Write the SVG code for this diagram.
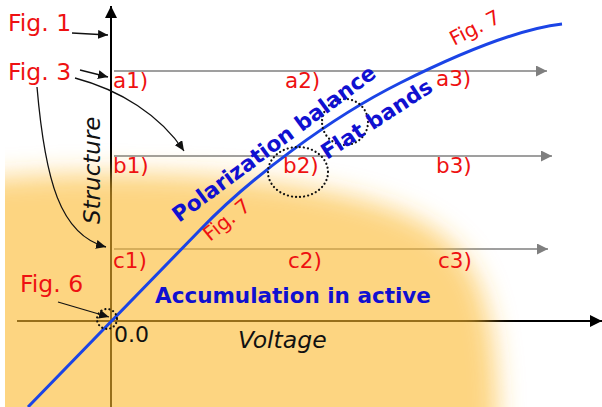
<svg xmlns="http://www.w3.org/2000/svg" width="602" height="407" viewBox="0 0 602 407">
<defs>
<style>
.lbl{font-family:"DejaVu Sans","Liberation Sans",sans-serif;font-size:21.5px;fill:#ee1111}
.fig{font-family:"DejaVu Sans","Liberation Sans",sans-serif;font-size:23.5px;fill:#ee1111}
.blue{font-family:"DejaVu Sans","Liberation Sans",sans-serif;font-size:21.5px;font-weight:bold;fill:#1010d0}
.ax{font-family:"DejaVu Sans","Liberation Sans",sans-serif;font-size:22px;fill:#111}
.gray{stroke:#7f7f7f;stroke-width:1.5;fill:none;marker-end:url(#ga)}
.ann{stroke:#111;stroke-width:1.3;fill:none;marker-end:url(#ba)}
.dot{fill:none;stroke:#111;stroke-width:2.2;stroke-dasharray:0.1 4;stroke-linecap:round}
</style>
<marker id="ga" markerUnits="userSpaceOnUse" markerWidth="11" markerHeight="11" refX="11" refY="5.5" orient="auto"><path d="M0,0 L11,5.5 L0,11 z" fill="#7f7f7f"/></marker>
<marker id="ba" markerUnits="userSpaceOnUse" markerWidth="10" markerHeight="9" refX="10" refY="4.5" orient="auto"><path d="M0,0 L10,4.5 L0,9 z" fill="#111"/></marker>
<marker id="axa" markerUnits="userSpaceOnUse" markerWidth="12" markerHeight="12" refX="12" refY="6" orient="auto"><path d="M0,0 L12,6 L0,12 z" fill="#000"/></marker>
<filter id="blur" x="-30%" y="-30%" width="160%" height="160%"><feGaussianBlur stdDeviation="13"/></filter>
<clipPath id="clipL"><rect x="5" y="0" width="597" height="407"/></clipPath>
</defs>
<rect width="602" height="407" fill="#fff"/>
<g id="axes">
<line x1="111" y1="407" x2="111" y2="6" stroke="#000" stroke-width="2" marker-end="url(#axa)"/>
<line x1="17" y1="321" x2="602" y2="321" stroke="#000" stroke-width="2" marker-end="url(#axa)"/>
</g>
<g id="connectors">
<line class="gray" x1="114" y1="71" x2="547" y2="71"/>
<line class="gray" x1="114" y1="156" x2="552" y2="156"/>
<line class="gray" x1="114" y1="249" x2="548" y2="249"/>
</g>
<g id="region" clip-path="url(#clipL)">
<path d="M-40,182 C100,165 300,172 400,212 C480,245 498,300 498,440 L-40,440 Z" fill="#fcb92b" fill-opacity="0.6" filter="url(#blur)"/>
</g>
<g id="curve">
<path d="M28,407 L200,230 C250,178 330,118 400,83 C440,63 510,30 562,24" fill="none" stroke="#1b44e6" stroke-width="3"/>
</g>
<g id="circles">
<ellipse class="dot" cx="298" cy="172" rx="30" ry="25"/>
<circle class="dot" cx="345" cy="122" r="23"/>
<circle class="dot" cx="107" cy="319" r="10" stroke-width="1.8"/>
</g>
<g id="annotations">
<line class="ann" x1="72" y1="33" x2="108" y2="35"/>
<line class="ann" x1="80" y1="70" x2="108" y2="77"/>
<path class="ann" d="M75,78 C120,90 160,115 184,151"/>
<path class="ann" d="M37,87 C45,180 60,235 106,247"/>
<line class="ann" x1="58" y1="302" x2="109" y2="317"/>
</g>
<g id="labels">
<text class="fig" x="8" y="31">Fig. 1</text>
<text class="fig" x="8" y="80">Fig. 3</text>
<text class="fig" x="20" y="292">Fig. 6</text>
<text class="lbl" x="113" y="88">a1)</text>
<text class="lbl" x="285" y="88">a2)</text>
<text class="lbl" x="436" y="86">a3)</text>
<text class="lbl" x="113" y="173">b1)</text>
<text class="lbl" x="283" y="173">b2)</text>
<text class="lbl" x="436" y="173">b3)</text>
<text class="lbl" x="113" y="268">c1)</text>
<text class="lbl" x="288" y="268">c2)</text>
<text class="lbl" x="438" y="268">c3)</text>
<text class="lbl" transform="translate(454,46) rotate(-27)" style="font-size:20px">Fig. 7</text>
<text class="lbl" transform="translate(210,242) rotate(-39)" style="font-size:20px">Fig. 7</text>
<text class="blue" transform="translate(179,223) rotate(-36.5)">Polarization balance</text>
<text class="blue" transform="translate(327,160) rotate(-33)">Flat bands</text>
<text class="blue" x="155" y="303">Accumulation in active</text>
<text class="ax" x="114" y="342">0.0</text>
<text class="ax" x="238" y="348" font-style="italic" style="font-size:23.5px">Voltage</text>
<text class="ax" font-style="italic" transform="translate(100,224) rotate(-90)" style="font-size:23px">Structure</text>
</g>
</svg>
